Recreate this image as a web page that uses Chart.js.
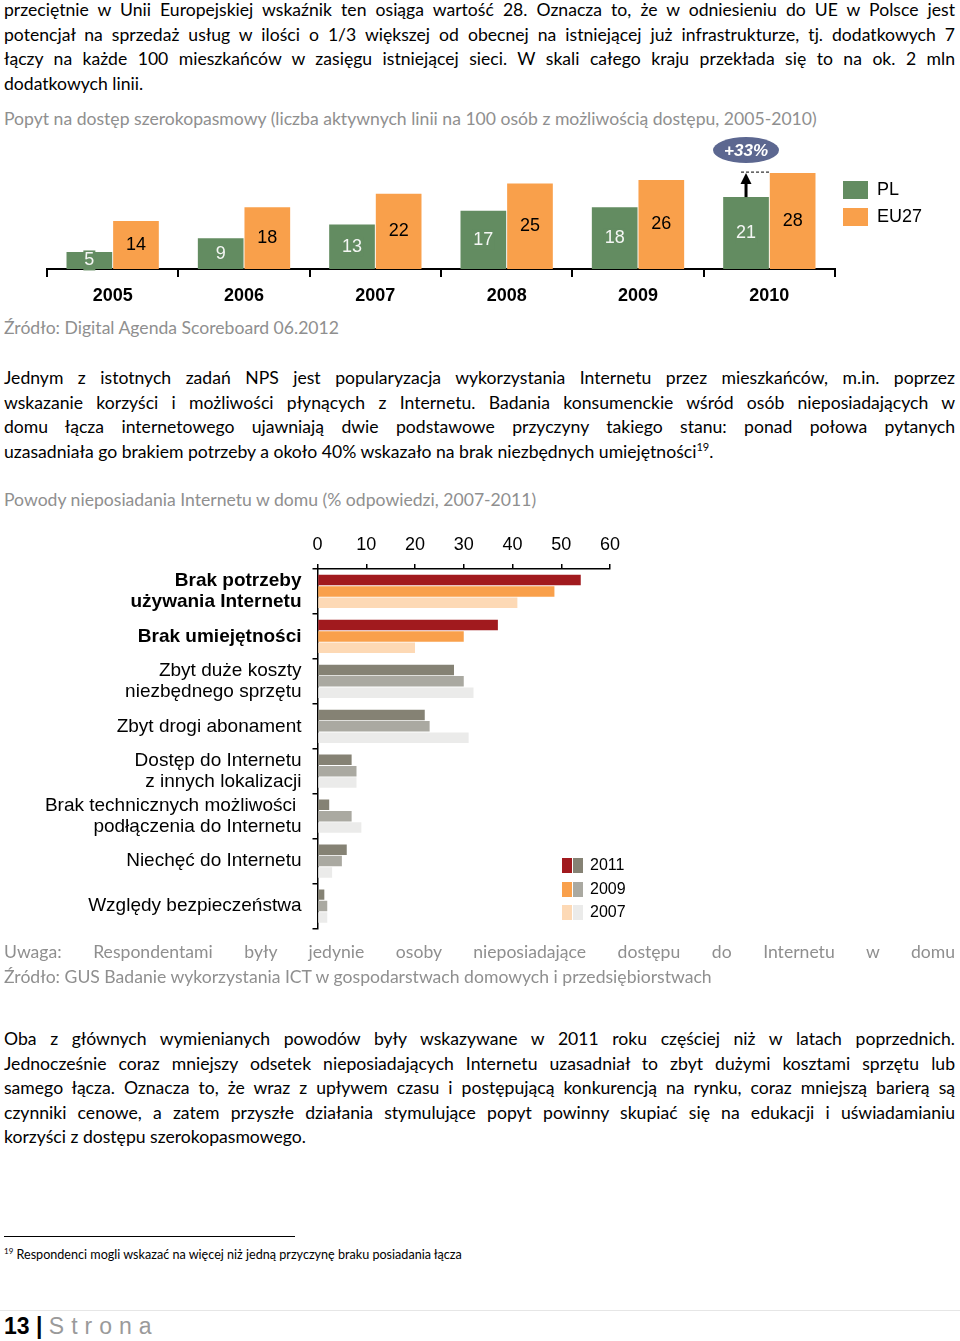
<!DOCTYPE html>
<html lang="pl">
<head>
<meta charset="utf-8">
<script src="https://cdn.jsdelivr.net/npm/chart.js@4/dist/chart.umd.min.js"></script>
<style>
  body { margin: 0; width: 960px; height: 1341px; position: relative; overflow: hidden; background: #fff;
         font-family: Lato, "Open Sans", sans-serif; color: #000; }
  .blk { position: absolute; left: 4px; width: 951px; font-size: 17.6px; line-height: 24.5px; }
  .ln { white-space: nowrap; text-align: justify; text-align-last: justify; }
  .last { text-align-last: left; }
  .grey { color: #8f8f8f; }
  sup { font-size: 11px; line-height: 0; }
  canvas { position: absolute; left: 0; }
  .lg { position: absolute; font-family: Arial, "Liberation Sans", sans-serif; }
  .sq { position: absolute; }
</style>
</head>
<body>

<div class="blk" style="top:-2px">
  <div class="ln">przeciętnie w Unii Europejskiej wskaźnik ten osiąga wartość 28. Oznacza to, że w odniesieniu do UE w Polsce jest</div>
  <div class="ln">potencjał na sprzedaż usług w ilości o 1/3 większej od obecnej na istniejącej już infrastrukturze, tj. dodatkowych 7</div>
  <div class="ln">łączy na każde 100 mieszkańców w zasięgu istniejącej sieci. W skali całego kraju przekłada się to na ok. 2 mln</div>
  <div class="ln last">dodatkowych linii.</div>
</div>

<div class="blk grey" style="top:107px">Popyt na dostęp szerokopasmowy (liczba aktywnych linii na 100 osób z możliwością dostępu, 2005-2010)</div>

<canvas id="broadband" width="960" height="180" style="top:130px;width:960px;height:180px"></canvas>

<div class="sq" style="left:843px;top:181px;width:25px;height:18px;background:#638c61"></div>
<div class="lg" style="left:877px;top:179px;font-size:18px">PL</div>
<div class="sq" style="left:843px;top:208px;width:25px;height:18px;background:#f9a04b"></div>
<div class="lg" style="left:877px;top:206px;font-size:18px">EU27</div>

<div class="blk grey" style="top:316px">Źródło: Digital Agenda Scoreboard 06.2012</div>

<div class="blk" style="top:366px">
  <div class="ln">Jednym z istotnych zadań NPS jest popularyzacja wykorzystania Internetu przez mieszkańców, m.in. poprzez</div>
  <div class="ln">wskazanie korzyści i możliwości płynących z Internetu. Badania konsumenckie wśród osób nieposiadających w</div>
  <div class="ln">domu łącza internetowego ujawniają dwie podstawowe przyczyny takiego stanu: ponad połowa pytanych</div>
  <div class="ln last">uzasadniała go brakiem potrzeby a około 40% wskazało na brak niezbędnych umiejętności<sup>19</sup>.</div>
</div>

<div class="blk grey" style="top:488px">Powody nieposiadania Internetu w domu (% odpowiedzi, 2007-2011)</div>

<canvas id="reasons" width="960" height="434" style="top:526px;width:960px;height:434px"></canvas>

<div class="sq" style="left:562px;top:858px;width:10px;height:15px;background:#a11a1e"></div>
<div class="sq" style="left:573px;top:858px;width:10px;height:15px;background:#858274"></div>
<div class="lg" style="left:590px;top:856px;font-size:16px">2011</div>
<div class="sq" style="left:562px;top:882px;width:10px;height:15px;background:#f9a04b"></div>
<div class="sq" style="left:573px;top:882px;width:10px;height:15px;background:#aaa9a1"></div>
<div class="lg" style="left:590px;top:880px;font-size:16px">2009</div>
<div class="sq" style="left:562px;top:905px;width:10px;height:15px;background:#fdd9b5"></div>
<div class="sq" style="left:573px;top:905px;width:10px;height:15px;background:#ebebea"></div>
<div class="lg" style="left:590px;top:903px;font-size:16px">2007</div>

<div class="blk grey" style="top:940px">
  <div class="ln">Uwaga: Respondentami były jedynie osoby nieposiadające dostępu do Internetu w domu</div>
  <div class="ln last">Źródło: GUS Badanie wykorzystania ICT w gospodarstwach domowych i przedsiębiorstwach</div>
</div>

<div class="blk" style="top:1027px">
  <div class="ln">Oba z głównych wymienianych powodów były wskazywane w 2011 roku częściej niż w latach poprzednich.</div>
  <div class="ln">Jednocześnie coraz mniejszy odsetek nieposiadających Internetu uzasadniał to zbyt dużymi kosztami sprzętu lub</div>
  <div class="ln">samego łącza. Oznacza to, że wraz z upływem czasu i postępującą konkurencją na rynku, coraz mniejszą barierą są</div>
  <div class="ln">czynniki cenowe, a zatem przyszłe działania stymulujące popyt powinny skupiać się na edukacji i uświadamianiu</div>
  <div class="ln last">korzyści z dostępu szerokopasmowego.</div>
</div>

<div style="position:absolute;left:4px;top:1236px;width:291px;height:1px;background:#000"></div>
<div class="blk" style="top:1245px;font-size:12.6px;line-height:20px"><sup style="font-size:8px">19</sup> Respondenci mogli wskazać na więcej niż jedną przyczynę braku posiadania łącza</div>

<div style="position:absolute;left:0;top:1310px;width:960px;height:1px;background:#e6e6e6"></div>
<div class="lg" style="left:4px;top:1313px;font-size:23px;line-height:26px"><b>13 | </b><span style="color:#9a9a9a;letter-spacing:7px">Strona</span></div>

<script>
// --- chart 1: broadband demand
const years = ['2005', '2006', '2007', '2008', '2009', '2010'];
const plLines = [5, 9, 13, 17, 18, 21];
const eu27Lines = [14, 18, 22, 25, 26, 28];
const growthLabel = '+33%';

// --- chart 2: reasons for not having internet at home
const reasons = [
  ['Brak potrzeby', 'używania Internetu'],
  'Brak umiejętności',
  ['Zbyt duże koszty', 'niezbędnego sprzętu'],
  'Zbyt drogi abonament',
  ['Dostęp do Internetu', 'z innych lokalizacji'],
  ['Brak technicznych możliwości ', 'podłączenia do Internetu'],
  'Niechęć do Internetu',
  'Względy bezpieczeństwa'
];
const share2011 = [54, 37, 28, 22, 7, 2.4, 6, 1.4];
const share2009 = [48.6, 30, 30, 23, 8, 7, 5, 2];
const share2007 = [41, 20, 32, 31, 8, 9, 3, 2];
const pctTicks = [0, 10, 20, 30, 40, 50, 60];

const GREEN = '#638c61', ORANGE = '#f9a04b';
const arial = 'Arial, "Liberation Sans", sans-serif';

const barLabels = {
  id: 'barLabels',
  afterDatasetsDraw(chart) {
    const ctx = chart.ctx;
    ctx.save();
    ctx.font = '18px ' + arial;
    ctx.textAlign = 'center';
    ctx.textBaseline = 'middle';
    chart.data.datasets.forEach((ds, i) => {
      chart.getDatasetMeta(i).data.forEach((bar, j) => {
        const y = (bar.y + bar.base) / 2;
        const txt = String(ds.data[j]);
        if (i === 0) {
          const w = ctx.measureText(txt).width + 2;
          ctx.fillStyle = GREEN;
          ctx.fillRect(bar.x - w / 2, y - 10, w, 20);
          ctx.fillStyle = '#f4f6f4';
        } else {
          ctx.fillStyle = '#000';
        }
        ctx.fillText(txt, bar.x, y);
      });
    });
    ctx.restore();
  }
};

const growthNote = {
  id: 'growthNote',
  afterDatasetsDraw(chart) {
    const ctx = chart.ctx;
    const last = years.length - 1;
    const pl = chart.getDatasetMeta(0).data[last];
    const eu = chart.getDatasetMeta(1).data[last];
    const yEu = chart.scales.y.getPixelForValue(eu27Lines[last]) - 1;
    ctx.save();
    // dashed level line
    ctx.strokeStyle = '#000';
    ctx.lineWidth = 1;
    ctx.setLineDash([3, 2]);
    ctx.beginPath();
    ctx.moveTo(pl.x - 5, yEu);
    ctx.lineTo(eu.x - eu.width / 2, yEu);
    ctx.stroke();
    ctx.setLineDash([]);
    // arrow
    ctx.lineWidth = 3;
    ctx.beginPath();
    ctx.moveTo(pl.x, pl.y);
    ctx.lineTo(pl.x, yEu + 10);
    ctx.stroke();
    ctx.fillStyle = '#000';
    ctx.beginPath();
    ctx.moveTo(pl.x, yEu + 1);
    ctx.lineTo(pl.x - 5.5, yEu + 12);
    ctx.lineTo(pl.x + 5.5, yEu + 12);
    ctx.closePath();
    ctx.fill();
    // bubble
    const cy = yEu - 22;
    ctx.fillStyle = '#5c6790';
    ctx.beginPath();
    ctx.ellipse(pl.x, cy, 33, 13, 0, 0, Math.PI * 2);
    ctx.fill();
    ctx.fillStyle = '#fff';
    ctx.font = 'italic bold 17px ' + arial;
    ctx.textAlign = 'center';
    ctx.textBaseline = 'middle';
    ctx.fillText(growthLabel, pl.x, cy + 1);
    ctx.restore();
  }
};

new Chart(document.getElementById('broadband'), {
  type: 'bar',
  data: {
    labels: years,
    datasets: [
      { label: 'PL', data: plLines, backgroundColor: GREEN },
      { label: 'EU27', data: eu27Lines, backgroundColor: ORANGE }
    ]
  },
  options: {
    responsive: false,
    animation: false,
    events: [],
    layout: { padding: { left: 47, right: 125, top: 2, bottom: 0 } },
    datasets: { bar: { categoryPercentage: 0.71, barPercentage: 0.98 } },
    plugins: { legend: { display: false }, tooltip: { enabled: false } },
    scales: {
      x: {
        grid: { display: true, offset: true, drawOnChartArea: false, color: '#000', tickLength: 8, lineWidth: 2 },
        border: { color: '#000', width: 2 },
        ticks: { color: '#000', font: { family: arial, size: 18, weight: 'bold' }, padding: 8 },
        afterFit: s => { s.height = 41; }
      },
      y: { display: false, min: 0, max: 40 }
    }
  },
  plugins: [barLabels, growthNote]
});

const colorful = (c, g) => reasons.map((r, i) => i < 2 ? c : g);

new Chart(document.getElementById('reasons'), {
  type: 'bar',
  data: {
    labels: reasons,
    datasets: [
      { label: '2011', data: share2011, backgroundColor: colorful('#a11a1e', '#858274') },
      { label: '2009', data: share2009, backgroundColor: colorful(ORANGE, '#aaa9a1') },
      { label: '2007', data: share2007, backgroundColor: colorful('#fdd9b5', '#ebebea') }
    ]
  },
  options: {
    indexAxis: 'y',
    responsive: false,
    animation: false,
    events: [],
    layout: { padding: { left: 0, right: 350, top: 0, bottom: 0 } },
    datasets: { bar: { categoryPercentage: 0.76, barPercentage: 0.92 } },
    plugins: { legend: { display: false }, tooltip: { enabled: false } },
    scales: {
      x: {
        position: 'top',
        min: 0, max: 60,
        afterBuildTicks: s => { s.ticks = pctTicks.map(v => ({ value: v })); },
        grid: { drawOnChartArea: false, color: '#000', tickLength: 5, lineWidth: 1.5 },
        border: { color: '#000', width: 1.5 },
        ticks: { color: '#000', font: { family: arial, size: 18 }, padding: 8 },
        afterFit: s => { s.height = 43; }
      },
      y: {
        grid: { offset: true, drawOnChartArea: false, color: '#000', tickLength: 5, lineWidth: 1.5 },
        border: { color: '#000', width: 1.5 },
        ticks: {
          color: '#000',
          padding: 11,
          autoSkip: false,
          font: c => ({ family: arial, size: 19, weight: c.index < 2 ? 'bold' : 'normal', lineHeight: 1.08 })
        },
        afterFit: s => { s.width = 317.5; }
      }
    }
  }
});
</script>
</body>
</html>
